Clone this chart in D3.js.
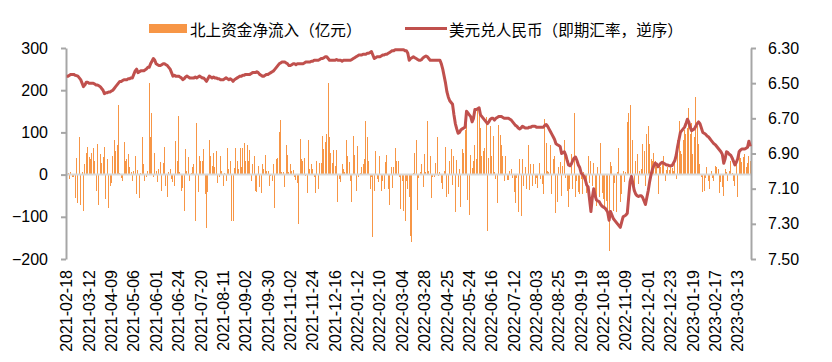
<!DOCTYPE html>
<html><head><meta charset="utf-8">
<script src="https://cdn.jsdelivr.net/npm/d3@7"></script>
<style>
html,body{margin:0;padding:0;background:#fff;}
svg{display:block;}
</style></head>
<body>
<svg id="chart" width="832" height="362"></svg>
<script>
// ---- data ----
const seriesNames = ["北上资金净流入（亿元）", "美元兑人民币（即期汇率，逆序）"];
const tickLabels = ["2021-02-18","2021-03-12","2021-04-09","2021-05-06","2021-06-01","2021-06-24","2021-07-20","2021-08-11","2021-09-02","2021-09-30","2021-11-02","2021-11-24","2021-12-16","2022-01-12","2022-02-10","2022-03-04","2022-03-28","2022-04-25","2022-05-24","2022-06-16","2022-07-12","2022-08-03","2022-08-25","2022-09-19","2022-10-18","2022-11-09","2022-12-01","2022-12-23","2023-01-19","2023-02-17","2023-03-13"];
const leftTicks = [300, 200, 100, 0, -100, -200];
const rightTicks = [6.30, 6.50, 6.70, 6.90, 7.10, 7.30, 7.50];
// 北上资金净流入（亿元），每个交易日
const flows = [
94,3,-10,5,-6,-6,-56,39,-68,90,
-73,5,-87,24,52,66,41,36,51,63,
33,-40,72,-73,49,27,41,65,-58,38,
-80,-28,-19,43,83,57,71,164,4,-8,
-14,78,32,36,49,19,6,-15,8,45,
-46,12,-55,4,90,25,-15,-5,9,216,
90,145,-6,52,9,-18,14,30,-40,28,
66,-27,-52,5,13,-11,-18,-27,79,33,
140,6,-40,-31,-87,60,8,41,-16,4,
17,25,-109,123,-42,43,32,32,61,
-47,-127,-42,81,43,21,52,17,55,-21,
-6,45,9,-28,3,-14,62,14,33,-109,
-109,16,62,33,13,62,19,62,76,33,
70,33,59,-16,25,44,-38,-42,21,-30,
-44,25,14,47,8,9,-26,-3,-14,25,
-80,38,40,102,130,7,7,-30,71,47,
7,24,8,12,-6,-13,-21,-117,85,36,
33,40,-4,-44,82,14,24,14,-6,-44,
33,-35,27,28,92,60,78,96,216,88,
52,28,59,21,59,-66,-10,-18,
24,13,5,81,45,31,-16,-66,92,47,
-40,68,-6,3,17,24,38,126,88,33,
-35,-6,-147,-40,55,-10,-18,45,-38,-16,
-35,29,47,-34,-73,17,-32,19,62,33,
33,-6,-81,-14,-87,-109,-14,-34,-52,-145,
-160,4,52,83,-85,-8,6,25,-30,50,
5,126,9,43,-55,-6,-6,27,90,-4,
5,-21,-35,9,66,-54,-46,32,61,-25,
43,-89,35,-30,13,-77,60,51,106,136,
-60,-96,47,16,33,69,36,154,157,
111,45,57,63,136,-134,40,116,43,91,
5,-10,-68,118,95,71,45,-14,45,-13,
-13,9,13,-8,-42,-68,-8,-89,36,-97,
36,-28,17,-34,71,-36,25,-28,24,-22,
-8,-32,28,-10,-22,-46,132,74,9,5,
69,-46,37,43,-92,-66,17,29,-50,21,
81,-8,-38,-76,-34,49,-34,147,-54,-14,
-42,-46,-10,-46,5,-14,-44,43,-21,33,
-28,28,-42,-75,17,-52,74,-44,-58,-81,
-62,-92,-180,29,21,-87,-21,-89,6,
62,-66,-46,8,-18,6,124,147,166,-22,
81,-38,33,49,-22,9,14,73,57,-28,
96,114,73,36,33,51,33,17,-46,25,
17,25,43,-14,12,18,10,22,15,8,
33,-10,81,128,57,49,82,106,96,110,
158,96,122,49,90,185,114,73,25,-6,
-42,-38,-8,17,-14,-34,8,-8,-14,21,
19,13,-44,-18,-30,-50,14,5,-14,9,
32,3,-14,-28,30,-54,51,40,29,41,
49,17,27,45,33
];
// 美元兑人民币即期汇率
const fx = [
6.46,6.46,6.455,6.45,6.45,6.45,6.455,6.457,6.46,6.47,
6.48,6.50,6.52,6.51,6.495,6.495,6.50,6.50,6.50,6.50,
6.505,6.51,6.51,6.515,6.52,6.53,6.54,6.56,6.555,6.555,
6.55,6.55,6.545,6.54,6.53,6.52,6.51,6.50,6.49,6.49,
6.485,6.48,6.48,6.48,6.475,6.475,6.47,6.47,6.45,6.43,
6.42,6.44,6.435,6.43,6.43,6.43,6.425,6.42,6.41,6.41,
6.39,6.375,6.36,6.37,6.39,6.395,6.40,6.40,6.395,6.39,
6.39,6.395,6.40,6.41,6.42,6.44,6.46,6.455,6.46,6.46,
6.46,6.465,6.47,6.48,6.475,6.465,6.46,6.465,6.47,6.47,
6.47,6.47,6.465,6.47,6.465,6.46,6.465,6.47,6.47,6.48,
6.49,6.475,6.46,6.465,6.47,6.465,6.47,6.47,6.475,6.475,
6.48,6.48,6.48,6.475,6.47,6.475,6.48,6.475,6.48,6.49,
6.48,6.475,6.47,6.465,6.46,6.46,6.455,6.455,6.45,6.45,
6.45,6.45,6.445,6.44,6.44,6.44,6.435,6.44,6.45,6.455,
6.46,6.46,6.455,6.45,6.45,6.445,6.44,6.435,6.43,6.42,
6.41,6.40,6.39,6.385,6.38,6.38,6.38,6.385,6.39,6.40,
6.40,6.395,6.39,6.39,6.395,6.39,6.39,6.39,6.39,6.39,
6.385,6.38,6.38,6.38,6.38,6.375,6.375,6.37,6.37,6.37,
6.37,6.365,6.36,6.36,6.355,6.35,6.35,6.36,6.37,6.37,
6.37,6.37,6.37,6.365,6.37,6.37,6.37,6.375,6.37,6.37,
6.37,6.37,6.37,6.37,6.365,6.36,6.355,6.35,6.345,6.34,
6.34,6.34,6.335,6.335,6.335,6.33,6.33,6.325,6.32,6.34,
6.36,6.355,6.35,6.35,6.35,6.345,6.34,6.34,6.335,6.335,
6.33,6.325,6.32,6.315,6.315,6.31,6.31,6.31,6.31,6.31,
6.31,6.31,6.315,6.315,6.33,6.37,6.36,6.355,6.35,6.355,
6.36,6.365,6.37,6.37,6.365,6.355,6.35,6.345,6.35,6.36,
6.37,6.37,6.37,6.37,6.37,6.37,6.37,6.37,6.39,6.42,
6.46,6.50,6.55,6.58,6.60,6.61,6.62,6.68,6.73,6.76,
6.785,6.78,6.765,6.76,6.755,6.75,6.66,6.67,6.68,6.69,
6.72,6.70,6.65,6.65,6.645,6.64,6.68,6.69,6.70,6.71,
6.72,6.73,6.72,6.705,6.70,6.70,6.71,6.70,6.695,6.69,
6.69,6.69,6.695,6.70,6.70,6.70,6.70,6.705,6.71,6.72,
6.73,6.74,6.745,6.755,6.76,6.755,6.745,6.75,6.755,6.755,
6.755,6.75,6.75,6.745,6.745,6.745,6.75,6.75,6.75,6.75,
6.75,6.75,6.74,6.735,6.745,6.76,6.775,6.79,6.805,6.82,
6.845,6.85,6.855,6.86,6.90,6.895,6.89,6.91,6.94,6.965,
6.97,6.96,6.94,6.925,6.92,6.94,6.965,6.98,7.01,7.02,
7.03,7.05,7.08,7.09,7.16,7.23,7.15,7.10,7.14,7.165,
7.17,7.175,7.19,7.20,7.205,7.21,7.22,7.235,7.28,7.23,
7.25,7.27,7.28,7.29,7.30,7.31,7.32,7.29,7.26,7.255,
7.25,7.24,7.15,7.06,7.03,7.07,7.11,7.13,7.14,7.145,
7.14,7.14,7.15,7.17,7.19,7.15,7.11,7.06,7.02,6.99,
6.97,6.955,6.96,6.975,6.965,6.955,6.95,6.955,6.96,6.965,
6.965,6.97,6.97,6.97,6.955,6.94,6.91,6.86,6.82,6.78,
6.77,6.76,6.75,6.73,6.705,6.72,6.75,6.77,6.765,6.76,
6.745,6.73,6.72,6.73,6.755,6.78,6.785,6.79,6.80,6.805,
6.815,6.825,6.835,6.845,6.85,6.86,6.87,6.88,6.89,6.905,
6.955,6.93,6.89,6.895,6.905,6.91,6.925,6.945,6.965,6.95,
6.93,6.89,6.88,6.875,6.875,6.875,6.87,6.865,6.83,6.86
];
const tickEvery = 16;

// ---- layout ----
const svg = d3.select("#chart");
const L = 66, R = 751, T = 48, B = 259;
const categories = d3.range(flows.length);
const x = d3.scaleBand().domain(categories).range([L, R]).padding(0);
const yL = d3.scaleLinear().domain([-200, 300]).range([B, T]);
const yR = d3.scaleLinear().domain([6.30, 7.50]).range([T, B]);
const axisColor = "#A6A6A6";
const numFont = "'Liberation Sans', Arial, sans-serif";
const cjkFont = "'Noto Sans CJK SC', 'Noto Sans', sans-serif";

// bars
svg.append("g").attr("shape-rendering", "crispEdges")
  .selectAll("rect").data(flows).join("rect")
  .attr("x", (d, i) => x(i) + x.bandwidth() / 2 - 0.5)
  .attr("width", 1)
  .attr("y", d => d >= 0 ? yL(d) : yL(0))
  .attr("height", d => Math.abs(yL(d) - yL(0)))
  .attr("fill", "#F79646");

// zero line
svg.append("line").attr("x1", L).attr("x2", R).attr("y1", yL(0)).attr("y2", yL(0))
  .attr("stroke", "#D9D9D9").attr("stroke-width", 2);

// left axis
const gL = svg.append("g").attr("transform", `translate(${L},0)`)
  .call(d3.axisLeft(yL).tickValues(leftTicks).tickSize(5).tickSizeOuter(0).tickPadding(13).tickFormat(d3.format("d")));
gL.select(".domain").attr("stroke", axisColor).attr("stroke-width", 2);
gL.selectAll(".tick line").attr("stroke", axisColor).attr("stroke-width", 2);
gL.selectAll(".tick text").attr("font-family", numFont).attr("font-size", 16).attr("fill", "#000");

// right axis
const gR = svg.append("g").attr("transform", `translate(${R},0)`)
  .call(d3.axisRight(yR).tickValues(rightTicks).tickSize(5).tickSizeOuter(0).tickPadding(12).tickFormat(d3.format(".2f")));
gR.select(".domain").attr("stroke", axisColor).attr("stroke-width", 2);
gR.selectAll(".tick line").attr("stroke", axisColor).attr("stroke-width", 2);
gR.selectAll(".tick text").attr("font-family", numFont).attr("font-size", 16).attr("fill", "#000");

// x labels
const xTickIdx = tickLabels.map((t, k) => k * tickEvery).filter(i => i < flows.length);
const gX = svg.append("g").attr("transform", `translate(0,270)`)
  .call(d3.axisBottom(x).tickValues(xTickIdx).tickSize(0).tickFormat(i => tickLabels[i / tickEvery]));
gX.select(".domain").remove();
gX.selectAll(".tick text")
  .attr("font-family", numFont).attr("font-size", 16).attr("fill", "#000")
  .attr("transform", "rotate(-90)")
  .attr("text-anchor", "end").attr("x", 0).attr("y", 0).attr("dy", "0.35em");

// fx line
svg.append("path").datum(fx)
  .attr("fill", "none").attr("stroke", "#C0504D").attr("stroke-width", 3)
  .attr("stroke-linejoin", "round")
  .attr("d", d3.line().x((d, i) => x(i) + x.bandwidth() / 2).y(d => yR(d)));

// legend
const lg = svg.append("g");
lg.append("rect").attr("x", 149).attr("y", 24).attr("width", 38).attr("height", 9).attr("fill", "#F79646");
lg.append("text").attr("x", 190).attr("y", 29).attr("dominant-baseline", "central")
  .attr("font-family", cjkFont).attr("font-size", 15.6).attr("fill", "#000").text(seriesNames[0]);
lg.append("line").attr("x1", 405).attr("x2", 447).attr("y1", 28.5).attr("y2", 28.5)
  .attr("stroke", "#C0504D").attr("stroke-width", 3);
lg.append("text").attr("x", 449).attr("y", 29).attr("dominant-baseline", "central")
  .attr("font-family", cjkFont).attr("font-size", 15.6).attr("fill", "#000").text(seriesNames[1]);
</script>
</body></html>
